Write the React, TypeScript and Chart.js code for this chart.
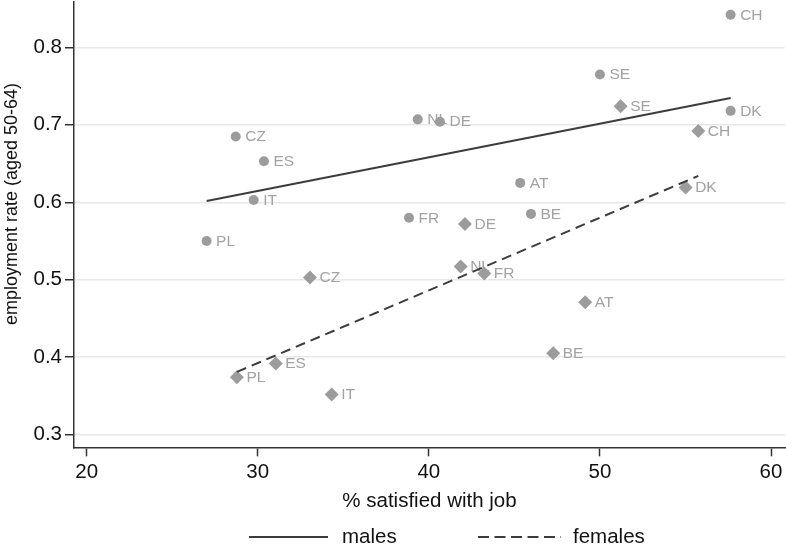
import React, { useEffect, useRef } from "react";
import { Chart, registerables } from "chart.js";

Chart.register(...registerables);

// ---- data ----
const maleCountries = ["CH", "SE", "DK", "NL", "DE", "AT", "FR", "BE", "CZ", "ES", "IT", "PL"];
const maleSatisfied = [57.64, 50.0, 57.64, 39.35, 40.65, 45.34, 38.84, 45.97, 28.71, 30.36, 29.76, 27.01];
const maleEmployment = [0.842, 0.765, 0.718, 0.707, 0.704, 0.625, 0.58, 0.585, 0.685, 0.653, 0.603, 0.55];

const femaleCountries = ["SE", "CH", "DK", "DE", "NL", "FR", "AT", "BE", "CZ", "ES", "PL", "IT"];
const femaleSatisfied = [51.21, 55.75, 55.01, 42.11, 41.86, 43.24, 49.14, 47.27, 33.05, 31.05, 28.78, 34.32];
const femaleEmployment = [0.724, 0.692, 0.619, 0.572, 0.517, 0.508, 0.471, 0.405, 0.503, 0.392, 0.374, 0.352];

// fitted lines (endpoints)
const maleFitX = [27.01, 57.64];
const maleFitY = [0.6017, 0.7345];
const femaleFitX = [28.78, 55.75];
const femaleFitY = [0.381, 0.634];

const xTicks = [20, 30, 40, 50, 60];
const yTicks = [0.3, 0.4, 0.5, 0.6, 0.7, 0.8];

const legendLabels = ["males", "females"];
const xTitle = "% satisfied with job";
const yTitle = "employment rate (aged 50-64)";

const FONT = "'Liberation Sans', Arial, Helvetica, sans-serif";
const POINT_GRAY = "#9c9c9c";
const LINE_DARK = "#3c3c3c";

const toPoints = (xs: number[], ys: number[]) => xs.map((x, i) => ({ x, y: ys[i] }));

const pointLabelPlugin = {
  id: "pointLabels",
  beforeDatasetsDraw(chart: any) {
    const ctx = chart.ctx;
    ctx.save();
    ctx.font = `15.5px ${FONT}`;
    ctx.fillStyle = "#a2a2a2";
    ctx.textBaseline = "middle";
    ctx.textAlign = "left";
    chart.data.datasets.forEach((ds: any, i: number) => {
      if (!ds.pointLabels) return;
      const meta = chart.getDatasetMeta(i);
      meta.data.forEach((el: any, j: number) => {
        ctx.fillText(ds.pointLabels[j], el.x + 9.5, el.y + 0.5);
      });
    });
    ctx.restore();
  },
};

const yTitlePlugin = {
  id: "yTitle",
  afterDraw(chart: any) {
    const ctx = chart.ctx;
    ctx.save();
    ctx.font = `18px ${FONT}`;
    ctx.fillStyle = "#111";
    ctx.textAlign = "center";
    ctx.textBaseline = "middle";
    ctx.translate(12, 204);
    ctx.rotate(-Math.PI / 2);
    ctx.fillText(yTitle, 0, 0);
    ctx.restore();
  },
};

const legendPlugin = {
  id: "customLegend",
  afterDraw(chart: any) {
    const ctx = chart.ctx;
    const ds = chart.data.datasets;
    const items = [
      { x0: 249, x1: 328, tx: 342, ds: ds[0], label: legendLabels[0] },
      { x0: 478, x1: 561, tx: 573, ds: ds[1], label: legendLabels[1] },
    ];
    const y = 537;
    ctx.save();
    items.forEach((it) => {
      ctx.strokeStyle = it.ds.borderColor;
      ctx.lineWidth = 2;
      ctx.setLineDash(it.ds.borderDash && it.ds.borderDash.length ? [11, 5.5] : []);
      ctx.beginPath();
      ctx.moveTo(it.x0, y);
      ctx.lineTo(it.x1, y);
      ctx.stroke();
      ctx.setLineDash([]);
      ctx.font = `20.5px ${FONT}`;
      ctx.fillStyle = "#111";
      ctx.textAlign = "left";
      ctx.textBaseline = "middle";
      ctx.fillText(it.label, it.tx, y);
    });
    ctx.restore();
  },
};

export default function App() {
  const canvasRef = useRef<HTMLCanvasElement | null>(null);

  useEffect(() => {
    if (!canvasRef.current) return;
    const chart = new Chart(canvasRef.current, {
      type: "scatter",
      data: {
        datasets: [
          {
            label: legendLabels[0],
            data: toPoints(maleFitX, maleFitY),
            showLine: true,
            borderColor: LINE_DARK,
            borderWidth: 2,
            pointRadius: 0,
            borderDash: [],
          },
          {
            label: legendLabels[1],
            data: toPoints(femaleFitX, femaleFitY),
            showLine: true,
            borderColor: LINE_DARK,
            borderWidth: 2,
            pointRadius: 0,
            borderDash: [10, 6],
          },
          {
            label: "males points",
            data: toPoints(maleSatisfied, maleEmployment),
            pointStyle: "circle",
            pointRadius: 5,
            backgroundColor: POINT_GRAY,
            borderColor: POINT_GRAY,
            borderWidth: 0,
            pointLabels: maleCountries,
          } as any,
          {
            label: "females points",
            data: toPoints(femaleSatisfied, femaleEmployment),
            pointStyle: "rectRot",
            pointRadius: 7,
            backgroundColor: POINT_GRAY,
            borderColor: POINT_GRAY,
            borderWidth: 0,
            pointLabels: femaleCountries,
          } as any,
        ],
      },
      options: {
        responsive: false,
        animation: false,
        devicePixelRatio: 1,
        layout: { autoPadding: false, padding: { left: 0, right: 1, top: 2, bottom: 0 } },
        plugins: {
          legend: { display: false },
          tooltip: { enabled: false },
        },
        scales: {
          x: {
            type: "linear",
            min: 19.258,
            max: 60.818,
            afterFit(scale: any) {
              scale.height = 102.7;
              scale.paddingLeft = 0;
              scale.paddingRight = 0;
            },
            afterBuildTicks(scale: any) {
              scale.ticks = xTicks.map((v) => ({ value: v }));
            },
            border: { display: true, color: "#333", width: 1.5 },
            grid: {
              drawOnChartArea: false,
              drawTicks: true,
              tickLength: 9,
              tickColor: "#333",
              tickWidth: 1.5,
            },
            ticks: {
              padding: 4,
              color: "#111",
              font: { family: FONT, size: 20.5 },
              callback: (v: any) => String(v),
              maxRotation: 0,
            },
            title: {
              display: true,
              text: xTitle,
              color: "#111",
              font: { family: FONT, size: 20.5 },
              padding: { top: 0, bottom: 36 },
            },
          },
          y: {
            type: "linear",
            min: 0.2837,
            max: 0.8585,
            afterFit(scale: any) {
              scale.width = 74;
              scale.paddingTop = 0;
              scale.paddingBottom = 0;
            },
            afterBuildTicks(scale: any) {
              scale.ticks = yTicks.map((v) => ({ value: v }));
            },
            border: { display: true, color: "#333", width: 1.5 },
            grid: {
              drawOnChartArea: true,
              color: "#e8e8e8",
              lineWidth: 1.5,
              drawTicks: true,
              tickLength: 9,
              tickColor: "#333",
              tickWidth: 1.5,
            },
            ticks: {
              padding: 3,
              color: "#111",
              font: { family: FONT, size: 20.5 },
              callback: (v: any) => Number(v).toFixed(1),
            },
            title: { display: false },
          },
        },
      } as any,
      plugins: [pointLabelPlugin, yTitlePlugin, legendPlugin],
    });
    return () => chart.destroy();
  }, []);

  return (
    <div style={{ position: "absolute", left: 0, top: 0, width: 786, height: 550, background: "#fff" }}>
      <canvas ref={canvasRef} width={786} height={550} style={{ display: "block", width: 786, height: 550 }} />
    </div>
  );
}
